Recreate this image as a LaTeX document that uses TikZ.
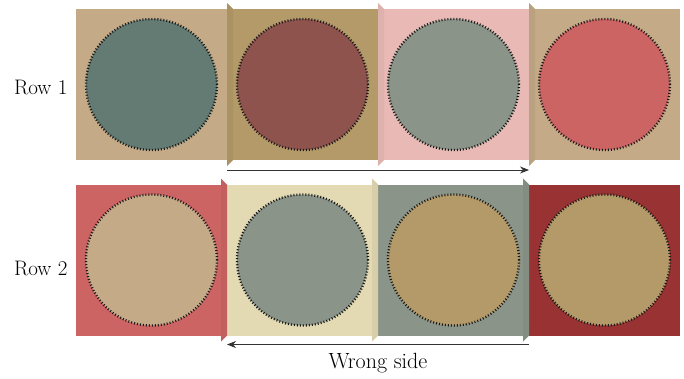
\documentclass[tikz,border=0pt]{standalone}
\usepackage{tikz}
\usetikzlibrary{arrows.meta,positioning,calc}

\definecolor{tanA}{HTML}{C4AA87}
\definecolor{tanB}{HTML}{B39A68}
\definecolor{pinkA}{HTML}{E9BAB5}
\definecolor{redA}{HTML}{CC6464}
\definecolor{redB}{HTML}{993333}
\definecolor{plum}{HTML}{8F534E}
\definecolor{teal}{HTML}{647B74}
\definecolor{sage}{HTML}{8A9489}
\definecolor{cream}{HTML}{E3D9B3}

\tikzset{
  patch/.style={draw=none, minimum size=151pt, inner sep=0pt, outer sep=0pt},
  disc/.style={circle, minimum size=131pt, inner sep=0pt,
    draw=black!90, line width=2.4pt, dash pattern=on 1pt off 2pt},
  flap/.style={fill=#1!95!black, draw=none},
  seam/.style={-{Stealth[length=9pt,width=7pt]}, line width=0.8pt, black!80},
  rowlabel/.style={font=\fontsize{21}{24}\selectfont, anchor=east}
}

\begin{document}
\begin{tikzpicture}[x=1pt,y=-1pt]
\useasboundingbox (0,0) rectangle (684,378);

% row 1
\node[patch, fill=tanA] (r1-1) at (151.5,84.5) {};
\node[patch, fill=tanB, right=0pt of r1-1] (r1-2) {};
\node[patch, fill=pinkA, right=0pt of r1-2] (r1-3) {};
\node[patch, fill=tanA, right=0pt of r1-3] (r1-4) {};

% row 2
\node[patch, fill=redA] (r2-1) at (151.5,260) {};
\node[patch, fill=cream, right=0pt of r2-1] (r2-2) {};
\node[patch, fill=sage, right=0pt of r2-2] (r2-3) {};
\node[patch, fill=redB, right=0pt of r2-3] (r2-4) {};

% seam allowances
\fill[flap=tanB] (r1-2.north west) ++(0,-6) -- ++(6,6) -- ($(r1-2.south west)+(6,0)$) -- ++(-6,6) -- cycle;
\fill[flap=pinkA] (r1-3.north west) ++(0,-6) -- ++(6,6) -- ($(r1-3.south west)+(6,0)$) -- ++(-6,6) -- cycle;
\fill[flap=tanA] (r1-4.north west) ++(0,-6) -- ++(6,6) -- ($(r1-4.south west)+(6,0)$) -- ++(-6,6) -- cycle;
\fill[flap=redA] (r2-1.north east) ++(-6,-6) -- ++(6,6) -- (r2-1.south east) -- ++(-6,6) -- cycle;
\fill[flap=cream] (r2-2.north east) ++(-6,-6) -- ++(6,6) -- (r2-2.south east) -- ++(-6,6) -- cycle;
\fill[flap=sage] (r2-3.north east) ++(-6,-6) -- ++(6,6) -- (r2-3.south east) -- ++(-6,6) -- cycle;

% circles
\node[disc, fill=teal] (d1-1) at (r1-1) {};
\node[disc, fill=plum] (d1-2) at (r1-2) {};
\node[disc, fill=sage] (d1-3) at (r1-3) {};
\node[disc, fill=redA] (d1-4) at (r1-4) {};
\node[disc, fill=tanA] (d2-1) at (r2-1) {};
\node[disc, fill=sage] (d2-2) at (r2-2) {};
\node[disc, fill=tanB] (d2-3) at (r2-3) {};
\node[disc, fill=tanB] (d2-4) at (r2-4) {};

% labels
\node[rowlabel] (lab1) at (71,87) {Row 1};
\node[rowlabel] (lab2) at (71,268) {Row 2};

% arrows
\coordinate (a1) at ($(r1-2.south west)+(0,10)$);
\coordinate (b1) at ($(r1-4.south west)+(0,10)$);
\coordinate (a2) at ($(r2-4.south west)+(0,9)$);
\coordinate (b2) at ($(r2-2.south west)+(0,9)$);
\draw[seam] (a1) -- (b1);
\draw[seam] (a2) -- (b2);
\node[font=\fontsize{22}{24}\selectfont, anchor=base] (wrong) at ($(r2-3.south west)+(0,33)$) {Wrong side};

\end{tikzpicture}
\end{document}
